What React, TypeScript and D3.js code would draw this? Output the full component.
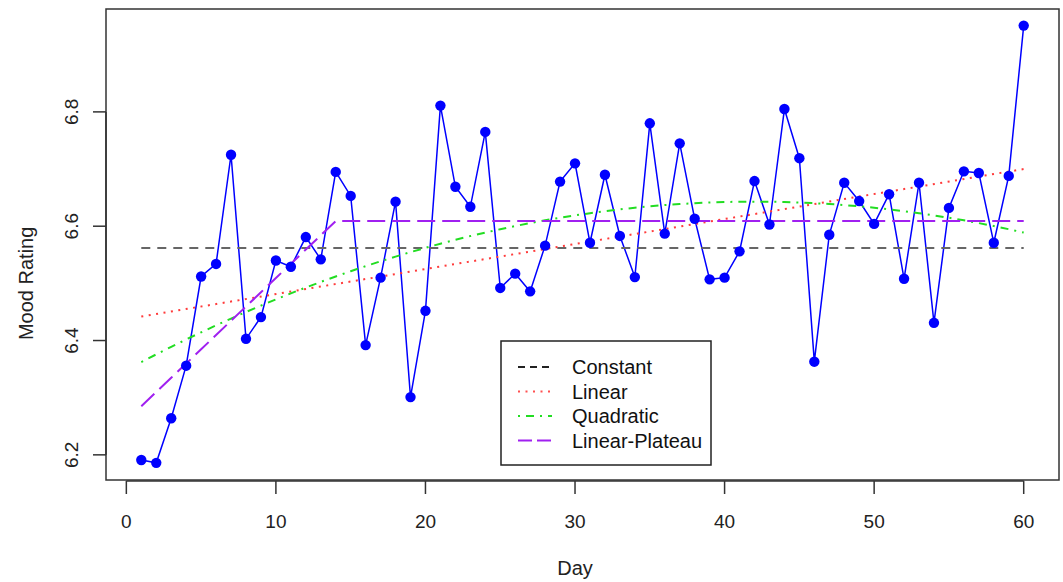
import { useEffect, useRef } from "react";
import * as d3 from "d3";

// observed mood ratings, days 1..60
const days = d3.range(1, 61);
const mood = [
  6.191, 6.186, 6.264, 6.356, 6.512, 6.534, 6.725, 6.403, 6.441, 6.540,
  6.529, 6.581, 6.542, 6.695, 6.653, 6.392, 6.510, 6.643, 6.301, 6.452,
  6.811, 6.669, 6.634, 6.765, 6.492, 6.517, 6.486, 6.566, 6.678, 6.710,
  6.571, 6.690, 6.583, 6.511, 6.780, 6.587, 6.745, 6.613, 6.507, 6.510,
  6.556, 6.679, 6.603, 6.805, 6.719, 6.363, 6.585, 6.676, 6.644, 6.604,
  6.656, 6.508, 6.676, 6.431, 6.632, 6.696, 6.693, 6.571, 6.688, 6.951,
];

const xTicks = [0, 10, 20, 30, 40, 50, 60];
const yTicks = [6.2, 6.4, 6.6, 6.8];
const legendLabels = ["Constant", "Linear", "Quadratic", "Linear-Plateau"];

// fitted models
const constantLevel = 6.562;
const linearEnds = [6.442, 6.7]; // value at day 1 and day 60
const quadPeakDay = 42;
const quadPeak = 6.643;
const quadCurv = -0.000167;
const plateauStart = 6.285;
const plateauBreak = 14;
const plateauLevel = 6.609;

export default function App() {
  const svgRef = useRef(null);

  useEffect(() => {
    const width = 1063;
    const height = 582;
    const svg = d3.select(svgRef.current);
    svg.selectAll("*").remove();
    svg.attr("viewBox", `0 0 ${width} ${height}`);

    const font = "'Liberation Sans', Arial, sans-serif";

    const x = d3.scaleLinear().domain([-1.36, 62.36]).range([106, 1059]);
    const y = d3.scaleLinear().domain([6.156, 6.98]).range([480, 9]);

    svg.append("rect").attr("width", width).attr("height", height).attr("fill", "#fff");

    const line = d3.line().x(d => x(d[0])).y(d => y(d[1]));

    const constantPts = [[1, constantLevel], [60, constantLevel]];
    const linearPts = [[1, linearEnds[0]], [60, linearEnds[1]]];
    const quadPts = days.map(d => [d, quadPeak + quadCurv * (d - quadPeakDay) ** 2]);
    const slope = (plateauLevel - plateauStart) / (plateauBreak - 1);
    const plateauPts = days.map(d => [d, d < plateauBreak ? plateauStart + slope * (d - 1) : plateauLevel]);

    const fits = [
      { pts: constantPts, color: "#666666", dash: "9 7", legendColor: "#222" },
      { pts: linearPts, color: "#ff3b3b", dash: "2 5.5", legendColor: "#ff5050" },
      { pts: quadPts, color: "#22dd22", dash: "2 6 8 6", legendColor: "#22dd22" },
      { pts: plateauPts, color: "#a020f0", dash: "18 7", legendColor: "#a020f0" },
    ];

    // observed series
    svg.append("path")
      .attr("d", line(days.map((d, i) => [d, mood[i]])))
      .attr("fill", "none")
      .attr("stroke", "#0000ff")
      .attr("stroke-width", 1.5);

    fits.forEach(f => {
      svg.append("path")
        .attr("d", line(f.pts))
        .attr("fill", "none")
        .attr("stroke", f.color)
        .attr("stroke-width", 2)
        .attr("stroke-dasharray", f.dash);
    });

    svg.selectAll("circle.pt")
      .data(days)
      .join("circle")
      .attr("class", "pt")
      .attr("cx", d => x(d))
      .attr("cy", (d, i) => y(mood[i]))
      .attr("r", 5.2)
      .attr("fill", "#0000ff");

    // plot box
    svg.append("rect")
      .attr("x", 106).attr("y", 9)
      .attr("width", 953).attr("height", 471)
      .attr("fill", "none")
      .attr("stroke", "#333")
      .attr("stroke-width", 1.5);

    // x axis (R style)
    const ax = svg.append("g").attr("stroke", "#333").attr("stroke-width", 1.5);
    ax.append("line")
      .attr("x1", x(0)).attr("x2", x(60))
      .attr("y1", 481).attr("y2", 481);
    xTicks.forEach(t => {
      ax.append("line").attr("x1", x(t)).attr("x2", x(t)).attr("y1", 481).attr("y2", 494);
    });
    svg.selectAll("text.xt")
      .data(xTicks)
      .join("text")
      .attr("class", "xt")
      .attr("x", d => x(d))
      .attr("y", 528)
      .attr("text-anchor", "middle")
      .attr("font-family", font)
      .attr("font-size", 19)
      .attr("fill", "#222")
      .text(d => d);

    // y axis
    ax.append("line")
      .attr("x1", 106).attr("x2", 106)
      .attr("y1", y(6.2)).attr("y2", y(6.8));
    yTicks.forEach(t => {
      ax.append("line").attr("x1", 106).attr("x2", 93).attr("y1", y(t)).attr("y2", y(t));
    });
    svg.selectAll("text.yt")
      .data(yTicks)
      .join("text")
      .attr("class", "yt")
      .attr("transform", d => `translate(78,${y(d)}) rotate(-90)`)
      .attr("text-anchor", "middle")
      .attr("font-family", font)
      .attr("font-size", 19)
      .attr("fill", "#222")
      .text(d => d.toFixed(1));

    // axis titles
    svg.append("text")
      .attr("x", x(30))
      .attr("y", 575)
      .attr("text-anchor", "middle")
      .attr("font-family", font)
      .attr("font-size", 20)
      .attr("fill", "#222")
      .text("Day");
    svg.append("text")
      .attr("transform", `translate(33,${y(6.5)}) rotate(-90)`)
      .attr("text-anchor", "middle")
      .attr("font-family", font)
      .attr("font-size", 20)
      .attr("fill", "#222")
      .text("Mood Rating");

    // legend
    const lg = svg.append("g");
    lg.append("rect")
      .attr("x", 501).attr("y", 341)
      .attr("width", 210).attr("height", 124)
      .attr("fill", "#fff")
      .attr("stroke", "#222")
      .attr("stroke-width", 1.5);
    legendLabels.forEach((lab, i) => {
      const ly = 367 + i * 24.5;
      lg.append("line")
        .attr("x1", 518).attr("x2", 552)
        .attr("y1", ly).attr("y2", ly)
        .attr("stroke", fits[i].legendColor)
        .attr("stroke-width", 2)
        .attr("stroke-dasharray", i === 0 ? "7 5" : i === 3 ? "14 5" : fits[i].dash);
      lg.append("text")
        .attr("x", 572)
        .attr("y", ly)
        .attr("dy", "0.35em")
        .attr("font-family", font)
        .attr("font-size", 20)
        .attr("fill", "#111")
        .text(lab);
    });
  }, []);

  return (
    <div>
      <style>{`body{margin:0}`}</style>
      <svg ref={svgRef} style={{ width: "1063px", height: "582px", display: "block" }} />
    </div>
  );
}
